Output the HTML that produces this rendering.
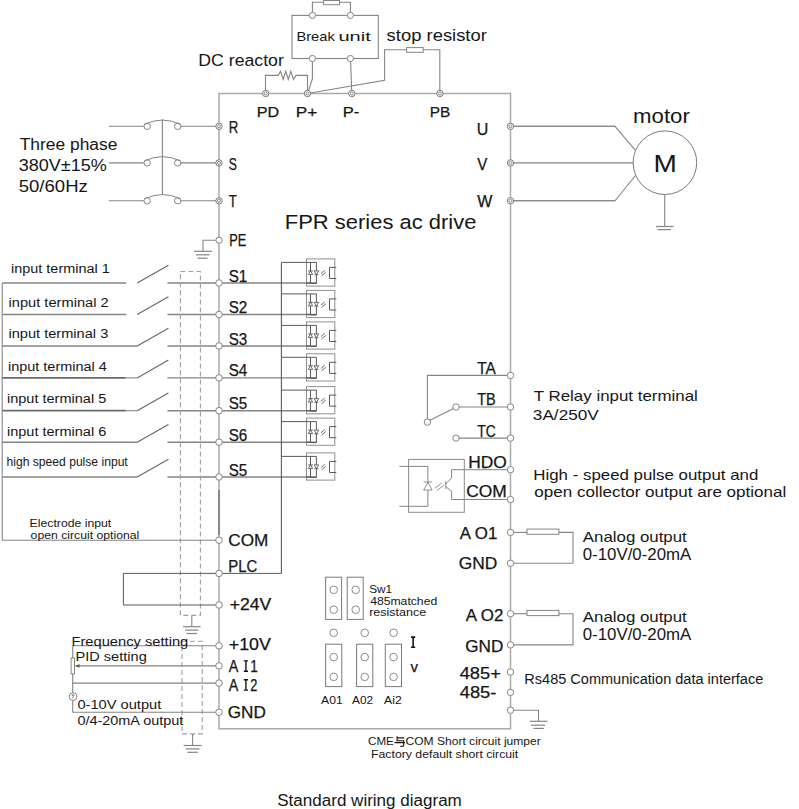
<!DOCTYPE html>
<html><head><meta charset="utf-8"><style>
html,body{margin:0;padding:0;background:#fff;}
svg{display:block;}
text{font-family:"Liberation Sans",sans-serif;}
</style></head><body>
<svg width="799" height="809" viewBox="0 0 799 809">
<rect width="799" height="809" fill="#fff"/>
<rect x="219" y="93.5" width="291.5" height="635.3" fill="none" stroke="#ababab" stroke-width="1.5"/>
<line x1="219" y1="490" x2="219" y2="535" stroke="#858585" stroke-width="1.9"/>
<rect x="292" y="15.4" width="86.3" height="43.1" fill="none" stroke="#858585" stroke-width="1.1"/>
<polyline points="312.4,12.2 312.4,2.3 350.4,2.3 350.4,12.2" fill="none" stroke="#858585" stroke-width="1.1"/>
<rect x="323.6" y="0.5" width="15.9" height="4.2" fill="#fff" stroke="#858585" stroke-width="1.0"/>
<circle cx="312.4" cy="15.4" r="3.1" fill="#fff" stroke="#858585" stroke-width="1.0"/>
<circle cx="312.4" cy="58.5" r="3.1" fill="#fff" stroke="#858585" stroke-width="1.0"/>
<circle cx="350.4" cy="15.4" r="3.1" fill="#fff" stroke="#858585" stroke-width="1.0"/>
<circle cx="350.4" cy="58.5" r="3.1" fill="#fff" stroke="#858585" stroke-width="1.0"/>
<polyline points="265.5,93.5 265.5,75.4 278,75.4 280.57142857142856,71.4 283.14285714285717,79.4 285.7142857142857,71.4 288.2857142857143,79.4 290.85714285714283,71.4 293.42857142857144,79.4 296,75.4 307.5,75.4 307.5,93.5" fill="none" stroke="#858585" stroke-width="1.1"/>
<polyline points="312.4,61.6 312.4,79 307.5,93.5" fill="none" stroke="#858585" stroke-width="1.1"/>
<line x1="350.6" y1="61.6" x2="351.8" y2="93.5" stroke="#858585" stroke-width="1.1"/>
<polyline points="307.5,93.5 384.6,80.4 384.6,49.8 406.6,49.8" fill="none" stroke="#858585" stroke-width="1.1"/>
<rect x="406.6" y="47.6" width="16.6" height="4.7" fill="#fff" stroke="#858585" stroke-width="1.0"/>
<polyline points="423.2,49.8 439.8,49.8 439.8,93.5" fill="none" stroke="#858585" stroke-width="1.1"/>
<circle cx="265.7" cy="93.5" r="3.2" fill="#fff" stroke="#7a7a7a" stroke-width="1.0"/>
<circle cx="265.7" cy="93.5" r="1.5" fill="#fff" stroke="#7a7a7a" stroke-width="0.9"/>
<circle cx="307.5" cy="93.5" r="3.2" fill="#fff" stroke="#7a7a7a" stroke-width="1.0"/>
<circle cx="307.5" cy="93.5" r="1.5" fill="#fff" stroke="#7a7a7a" stroke-width="0.9"/>
<circle cx="351.8" cy="93.5" r="3.2" fill="#fff" stroke="#7a7a7a" stroke-width="1.0"/>
<circle cx="351.8" cy="93.5" r="1.5" fill="#fff" stroke="#7a7a7a" stroke-width="0.9"/>
<circle cx="439.9" cy="93.5" r="3.2" fill="#fff" stroke="#7a7a7a" stroke-width="1.0"/>
<circle cx="439.9" cy="93.5" r="1.5" fill="#fff" stroke="#7a7a7a" stroke-width="0.9"/>
<line x1="108.9" y1="126.3" x2="144" y2="126.3" stroke="#858585" stroke-width="1.1"/>
<line x1="180.9" y1="126.3" x2="219" y2="126.3" stroke="#858585" stroke-width="1.1"/>
<circle cx="147.2" cy="126.3" r="3.2" fill="#fff" stroke="#858585" stroke-width="1.0"/>
<circle cx="177.7" cy="126.3" r="3.2" fill="#fff" stroke="#858585" stroke-width="1.0"/>
<path d="M144.6,124.3 Q162.4,115.8 180.3,124.3" fill="none" stroke="#858585" stroke-width="1.0"/>
<circle cx="219" cy="126.3" r="3.2" fill="#fff" stroke="#7a7a7a" stroke-width="1.0"/>
<circle cx="219" cy="126.3" r="1.5" fill="#fff" stroke="#7a7a7a" stroke-width="0.9"/>
<line x1="108.9" y1="162.9" x2="144" y2="162.9" stroke="#858585" stroke-width="1.1"/>
<line x1="180.9" y1="162.9" x2="219" y2="162.9" stroke="#858585" stroke-width="1.1"/>
<circle cx="147.2" cy="162.9" r="3.2" fill="#fff" stroke="#858585" stroke-width="1.0"/>
<circle cx="177.7" cy="162.9" r="3.2" fill="#fff" stroke="#858585" stroke-width="1.0"/>
<path d="M144.6,160.9 Q162.4,152.4 180.3,160.9" fill="none" stroke="#858585" stroke-width="1.0"/>
<circle cx="219" cy="162.9" r="3.2" fill="#fff" stroke="#7a7a7a" stroke-width="1.0"/>
<circle cx="219" cy="162.9" r="1.5" fill="#fff" stroke="#7a7a7a" stroke-width="0.9"/>
<line x1="108.9" y1="200.8" x2="144" y2="200.8" stroke="#858585" stroke-width="1.1"/>
<line x1="180.9" y1="200.8" x2="219" y2="200.8" stroke="#858585" stroke-width="1.1"/>
<circle cx="147.2" cy="200.8" r="3.2" fill="#fff" stroke="#858585" stroke-width="1.0"/>
<circle cx="177.7" cy="200.8" r="3.2" fill="#fff" stroke="#858585" stroke-width="1.0"/>
<path d="M144.6,198.8 Q162.4,190.3 180.3,198.8" fill="none" stroke="#858585" stroke-width="1.0"/>
<circle cx="219" cy="200.8" r="3.2" fill="#fff" stroke="#7a7a7a" stroke-width="1.0"/>
<circle cx="219" cy="200.8" r="1.5" fill="#fff" stroke="#7a7a7a" stroke-width="0.9"/>
<line x1="162.4" y1="119.5" x2="162.4" y2="194.6" stroke="#858585" stroke-width="1.1"/>
<line x1="510.5" y1="126.3" x2="615" y2="126.3" stroke="#858585" stroke-width="1.1"/>
<line x1="510.5" y1="162.9" x2="633.2" y2="162.9" stroke="#858585" stroke-width="1.1"/>
<line x1="510.5" y1="200.8" x2="615" y2="200.8" stroke="#858585" stroke-width="1.1"/>
<polyline points="510.5,126.3 615,126.3 635.5,150.3" fill="none" stroke="#858585" stroke-width="1.1"/>
<polyline points="510.5,200.8 615,200.8 635.5,175.5" fill="none" stroke="#858585" stroke-width="1.1"/>
<circle cx="664.9" cy="162.7" r="31.8" fill="#fff" stroke="#7a7a7a" stroke-width="1.0"/>
<circle cx="510.5" cy="126.3" r="3.2" fill="#fff" stroke="#7a7a7a" stroke-width="1.0"/>
<circle cx="510.5" cy="126.3" r="1.5" fill="#fff" stroke="#7a7a7a" stroke-width="0.9"/>
<circle cx="510.5" cy="162.9" r="3.2" fill="#fff" stroke="#7a7a7a" stroke-width="1.0"/>
<circle cx="510.5" cy="162.9" r="1.5" fill="#fff" stroke="#7a7a7a" stroke-width="0.9"/>
<circle cx="510.5" cy="200.8" r="3.2" fill="#fff" stroke="#7a7a7a" stroke-width="1.0"/>
<circle cx="510.5" cy="200.8" r="1.5" fill="#fff" stroke="#7a7a7a" stroke-width="0.9"/>
<line x1="664.7" y1="194.5" x2="664.7" y2="226.5" stroke="#858585" stroke-width="1.1"/>
<line x1="656" y1="226.5" x2="673.5" y2="226.5" stroke="#858585" stroke-width="1.2"/>
<line x1="657.5" y1="229.6" x2="671" y2="229.6" stroke="#858585" stroke-width="1.2"/>
<polyline points="216,240.2 203,240.2 203,251.3" fill="none" stroke="#858585" stroke-width="1.1"/>
<line x1="194" y1="251.3" x2="212" y2="251.3" stroke="#858585" stroke-width="1.2"/>
<line x1="196" y1="254.8" x2="209.5" y2="254.8" stroke="#858585" stroke-width="1.2"/>
<line x1="197.5" y1="258.2" x2="207.5" y2="258.2" stroke="#858585" stroke-width="1.2"/>
<circle cx="219" cy="240.2" r="3.1" fill="#fff" stroke="#858585" stroke-width="1.0"/>
<line x1="2.2" y1="283.0" x2="126.3" y2="283.0" stroke="#858585" stroke-width="1.4"/>
<line x1="137.2" y1="283.0" x2="168.4" y2="265.2" stroke="#666" stroke-width="1.1"/>
<line x1="167.4" y1="283.0" x2="310.5" y2="283.0" stroke="#858585" stroke-width="1.4"/>
<line x1="2.2" y1="314.5" x2="126.3" y2="314.5" stroke="#858585" stroke-width="1.4"/>
<line x1="137.2" y1="314.5" x2="168.4" y2="296.7" stroke="#666" stroke-width="1.1"/>
<line x1="167.4" y1="314.5" x2="310.5" y2="314.5" stroke="#858585" stroke-width="1.4"/>
<line x1="2.2" y1="346.0" x2="137.2" y2="346.0" stroke="#858585" stroke-width="1.4"/>
<line x1="137.2" y1="346.0" x2="168.4" y2="328.2" stroke="#666" stroke-width="1.1"/>
<line x1="167.4" y1="346.0" x2="310.5" y2="346.0" stroke="#858585" stroke-width="1.4"/>
<line x1="2.2" y1="377.9" x2="125.8" y2="377.9" stroke="#6a6a6a" stroke-width="1.8"/>
<line x1="125.8" y1="377.9" x2="137.2" y2="377.9" stroke="#858585" stroke-width="1.1"/>
<line x1="137.2" y1="377.9" x2="168.4" y2="360.09999999999997" stroke="#666" stroke-width="1.1"/>
<line x1="167.4" y1="377.9" x2="310.5" y2="377.9" stroke="#858585" stroke-width="1.4"/>
<line x1="2.2" y1="410.7" x2="125.8" y2="410.7" stroke="#6a6a6a" stroke-width="1.8"/>
<line x1="125.8" y1="410.7" x2="137.2" y2="410.7" stroke="#858585" stroke-width="1.1"/>
<line x1="137.2" y1="410.7" x2="168.4" y2="392.9" stroke="#666" stroke-width="1.1"/>
<line x1="167.4" y1="410.7" x2="310.5" y2="410.7" stroke="#858585" stroke-width="1.4"/>
<line x1="2.2" y1="442.2" x2="137.2" y2="442.2" stroke="#858585" stroke-width="1.4"/>
<line x1="137.2" y1="442.2" x2="168.4" y2="424.4" stroke="#666" stroke-width="1.1"/>
<line x1="167.4" y1="442.2" x2="310.5" y2="442.2" stroke="#858585" stroke-width="1.4"/>
<line x1="2.2" y1="477.0" x2="137.2" y2="477.0" stroke="#858585" stroke-width="1.4"/>
<line x1="137.2" y1="477.0" x2="168.4" y2="459.2" stroke="#666" stroke-width="1.1"/>
<line x1="167.4" y1="477.0" x2="310.5" y2="477.0" stroke="#858585" stroke-width="1.4"/>
<line x1="2.2" y1="283" x2="2.2" y2="540.2" stroke="#858585" stroke-width="1.1"/>
<rect x="180.4" y="271.5" width="20.0" height="343.9" fill="none" stroke="#a0a0a0" stroke-width="1.1" stroke-dasharray="5,3"/>
<line x1="191.8" y1="615.4" x2="191.8" y2="626.7" stroke="#858585" stroke-width="1.1"/>
<line x1="183.05" y1="626.7" x2="200.55" y2="626.7" stroke="#858585" stroke-width="1.2"/>
<line x1="185.05" y1="630.1" x2="198.55" y2="630.1" stroke="#858585" stroke-width="1.2"/>
<line x1="186.55" y1="633.5" x2="197.05" y2="633.5" stroke="#858585" stroke-width="1.2"/>
<rect x="182.0" y="641.3" width="20.2" height="92.6" fill="none" stroke="#a0a0a0" stroke-width="1.1" stroke-dasharray="5,3"/>
<line x1="192.6" y1="733.9" x2="192.6" y2="745.5" stroke="#858585" stroke-width="1.1"/>
<line x1="183.6" y1="745.5" x2="201.6" y2="745.5" stroke="#858585" stroke-width="1.2"/>
<line x1="185.6" y1="748.9" x2="199.6" y2="748.9" stroke="#858585" stroke-width="1.2"/>
<line x1="187.35" y1="752.3" x2="197.85" y2="752.3" stroke="#858585" stroke-width="1.2"/>
<rect x="306.5" y="258.9" width="28.3" height="27.2" fill="none" stroke="#909090" stroke-width="1.0"/>
<polyline points="281.4,262.4 316.4,262.4 316.4,283.5 310.5,283.5" fill="none" stroke="#5a5a5a" stroke-width="1.0"/>
<line x1="310.5" y1="262.4" x2="310.5" y2="283.5" stroke="#5a5a5a" stroke-width="1.0"/>
<line x1="306" y1="283.0" x2="316.4" y2="283.0" stroke="#5a5a5a" stroke-width="1.2"/>
<path d="M308.1,270.9 L312.9,270.9 M310.5,270.9 L308.3,274.4 L312.7,274.4 Z" fill="#fff" stroke="#5a5a5a" stroke-width="0.9"/>
<path d="M314.1,270.9 L318.7,270.9 L316.4,274.7 Z M314.4,274.7 L318.4,274.7" fill="#fff" stroke="#5a5a5a" stroke-width="0.9"/>
<line x1="320.9" y1="273.6" x2="324.7" y2="270.4" stroke="#5a5a5a" stroke-width="0.9"/>
<line x1="321.5" y1="275.9" x2="325.8" y2="272.4" stroke="#5a5a5a" stroke-width="0.9"/>
<polyline points="336.3,267.4 329.5,267.4 329.5,278.5 336.3,278.5" fill="none" stroke="#5a5a5a" stroke-width="1.0"/>
<rect x="306.5" y="290.4" width="28.3" height="27.2" fill="none" stroke="#909090" stroke-width="1.0"/>
<polyline points="281.4,293.9 316.4,293.9 316.4,315.0 310.5,315.0" fill="none" stroke="#5a5a5a" stroke-width="1.0"/>
<line x1="310.5" y1="293.9" x2="310.5" y2="315.0" stroke="#5a5a5a" stroke-width="1.0"/>
<line x1="306" y1="314.5" x2="316.4" y2="314.5" stroke="#5a5a5a" stroke-width="1.2"/>
<path d="M308.1,302.4 L312.9,302.4 M310.5,302.4 L308.3,305.9 L312.7,305.9 Z" fill="#fff" stroke="#5a5a5a" stroke-width="0.9"/>
<path d="M314.1,302.4 L318.7,302.4 L316.4,306.2 Z M314.4,306.2 L318.4,306.2" fill="#fff" stroke="#5a5a5a" stroke-width="0.9"/>
<line x1="320.9" y1="305.1" x2="324.7" y2="301.9" stroke="#5a5a5a" stroke-width="0.9"/>
<line x1="321.5" y1="307.4" x2="325.8" y2="303.9" stroke="#5a5a5a" stroke-width="0.9"/>
<polyline points="336.3,298.9 329.5,298.9 329.5,310.0 336.3,310.0" fill="none" stroke="#5a5a5a" stroke-width="1.0"/>
<rect x="306.5" y="321.9" width="28.3" height="27.2" fill="none" stroke="#909090" stroke-width="1.0"/>
<polyline points="281.4,325.4 316.4,325.4 316.4,346.5 310.5,346.5" fill="none" stroke="#5a5a5a" stroke-width="1.0"/>
<line x1="310.5" y1="325.4" x2="310.5" y2="346.5" stroke="#5a5a5a" stroke-width="1.0"/>
<line x1="306" y1="346.0" x2="316.4" y2="346.0" stroke="#5a5a5a" stroke-width="1.2"/>
<path d="M308.1,333.9 L312.9,333.9 M310.5,333.9 L308.3,337.4 L312.7,337.4 Z" fill="#fff" stroke="#5a5a5a" stroke-width="0.9"/>
<path d="M314.1,333.9 L318.7,333.9 L316.4,337.7 Z M314.4,337.7 L318.4,337.7" fill="#fff" stroke="#5a5a5a" stroke-width="0.9"/>
<line x1="320.9" y1="336.6" x2="324.7" y2="333.4" stroke="#5a5a5a" stroke-width="0.9"/>
<line x1="321.5" y1="338.9" x2="325.8" y2="335.4" stroke="#5a5a5a" stroke-width="0.9"/>
<polyline points="336.3,330.4 329.5,330.4 329.5,341.5 336.3,341.5" fill="none" stroke="#5a5a5a" stroke-width="1.0"/>
<rect x="306.5" y="353.79999999999995" width="28.3" height="27.2" fill="none" stroke="#909090" stroke-width="1.0"/>
<polyline points="281.4,357.29999999999995 316.4,357.29999999999995 316.4,378.4 310.5,378.4" fill="none" stroke="#5a5a5a" stroke-width="1.0"/>
<line x1="310.5" y1="357.29999999999995" x2="310.5" y2="378.4" stroke="#5a5a5a" stroke-width="1.0"/>
<line x1="306" y1="377.9" x2="316.4" y2="377.9" stroke="#5a5a5a" stroke-width="1.2"/>
<path d="M308.1,365.79999999999995 L312.9,365.79999999999995 M310.5,365.79999999999995 L308.3,369.29999999999995 L312.7,369.29999999999995 Z" fill="#fff" stroke="#5a5a5a" stroke-width="0.9"/>
<path d="M314.1,365.79999999999995 L318.7,365.79999999999995 L316.4,369.59999999999997 Z M314.4,369.59999999999997 L318.4,369.59999999999997" fill="#fff" stroke="#5a5a5a" stroke-width="0.9"/>
<line x1="320.9" y1="368.5" x2="324.7" y2="365.29999999999995" stroke="#5a5a5a" stroke-width="0.9"/>
<line x1="321.5" y1="370.79999999999995" x2="325.8" y2="367.29999999999995" stroke="#5a5a5a" stroke-width="0.9"/>
<polyline points="336.3,362.29999999999995 329.5,362.29999999999995 329.5,373.4 336.3,373.4" fill="none" stroke="#5a5a5a" stroke-width="1.0"/>
<rect x="306.5" y="386.59999999999997" width="28.3" height="27.2" fill="none" stroke="#909090" stroke-width="1.0"/>
<polyline points="281.4,390.09999999999997 316.4,390.09999999999997 316.4,411.2 310.5,411.2" fill="none" stroke="#5a5a5a" stroke-width="1.0"/>
<line x1="310.5" y1="390.09999999999997" x2="310.5" y2="411.2" stroke="#5a5a5a" stroke-width="1.0"/>
<line x1="306" y1="410.7" x2="316.4" y2="410.7" stroke="#5a5a5a" stroke-width="1.2"/>
<path d="M308.1,398.59999999999997 L312.9,398.59999999999997 M310.5,398.59999999999997 L308.3,402.09999999999997 L312.7,402.09999999999997 Z" fill="#fff" stroke="#5a5a5a" stroke-width="0.9"/>
<path d="M314.1,398.59999999999997 L318.7,398.59999999999997 L316.4,402.4 Z M314.4,402.4 L318.4,402.4" fill="#fff" stroke="#5a5a5a" stroke-width="0.9"/>
<line x1="320.9" y1="401.3" x2="324.7" y2="398.09999999999997" stroke="#5a5a5a" stroke-width="0.9"/>
<line x1="321.5" y1="403.59999999999997" x2="325.8" y2="400.09999999999997" stroke="#5a5a5a" stroke-width="0.9"/>
<polyline points="336.3,395.09999999999997 329.5,395.09999999999997 329.5,406.2 336.3,406.2" fill="none" stroke="#5a5a5a" stroke-width="1.0"/>
<rect x="306.5" y="418.09999999999997" width="28.3" height="27.2" fill="none" stroke="#909090" stroke-width="1.0"/>
<polyline points="281.4,421.59999999999997 316.4,421.59999999999997 316.4,442.7 310.5,442.7" fill="none" stroke="#5a5a5a" stroke-width="1.0"/>
<line x1="310.5" y1="421.59999999999997" x2="310.5" y2="442.7" stroke="#5a5a5a" stroke-width="1.0"/>
<line x1="306" y1="442.2" x2="316.4" y2="442.2" stroke="#5a5a5a" stroke-width="1.2"/>
<path d="M308.1,430.09999999999997 L312.9,430.09999999999997 M310.5,430.09999999999997 L308.3,433.59999999999997 L312.7,433.59999999999997 Z" fill="#fff" stroke="#5a5a5a" stroke-width="0.9"/>
<path d="M314.1,430.09999999999997 L318.7,430.09999999999997 L316.4,433.9 Z M314.4,433.9 L318.4,433.9" fill="#fff" stroke="#5a5a5a" stroke-width="0.9"/>
<line x1="320.9" y1="432.8" x2="324.7" y2="429.59999999999997" stroke="#5a5a5a" stroke-width="0.9"/>
<line x1="321.5" y1="435.09999999999997" x2="325.8" y2="431.59999999999997" stroke="#5a5a5a" stroke-width="0.9"/>
<polyline points="336.3,426.59999999999997 329.5,426.59999999999997 329.5,437.7 336.3,437.7" fill="none" stroke="#5a5a5a" stroke-width="1.0"/>
<rect x="306.5" y="452.9" width="28.3" height="27.2" fill="none" stroke="#909090" stroke-width="1.0"/>
<polyline points="281.4,456.4 316.4,456.4 316.4,477.5 310.5,477.5" fill="none" stroke="#5a5a5a" stroke-width="1.0"/>
<line x1="310.5" y1="456.4" x2="310.5" y2="477.5" stroke="#5a5a5a" stroke-width="1.0"/>
<line x1="306" y1="477.0" x2="316.4" y2="477.0" stroke="#5a5a5a" stroke-width="1.2"/>
<path d="M308.1,464.9 L312.9,464.9 M310.5,464.9 L308.3,468.4 L312.7,468.4 Z" fill="#fff" stroke="#5a5a5a" stroke-width="0.9"/>
<path d="M314.1,464.9 L318.7,464.9 L316.4,468.7 Z M314.4,468.7 L318.4,468.7" fill="#fff" stroke="#5a5a5a" stroke-width="0.9"/>
<line x1="320.9" y1="467.6" x2="324.7" y2="464.4" stroke="#5a5a5a" stroke-width="0.9"/>
<line x1="321.5" y1="469.9" x2="325.8" y2="466.4" stroke="#5a5a5a" stroke-width="0.9"/>
<polyline points="336.3,461.4 329.5,461.4 329.5,472.5 336.3,472.5" fill="none" stroke="#5a5a5a" stroke-width="1.0"/>
<line x1="281.4" y1="262.4" x2="281.4" y2="573.4" stroke="#5a5a5a" stroke-width="1.1"/>
<line x1="219" y1="573.4" x2="281.4" y2="573.4" stroke="#5a5a5a" stroke-width="1.0"/>
<circle cx="219" cy="283.0" r="3.3" fill="#fff" stroke="#858585" stroke-width="1.0"/>
<circle cx="219" cy="314.5" r="3.3" fill="#fff" stroke="#858585" stroke-width="1.0"/>
<circle cx="219" cy="346.0" r="3.3" fill="#fff" stroke="#858585" stroke-width="1.0"/>
<circle cx="219" cy="377.9" r="3.3" fill="#fff" stroke="#858585" stroke-width="1.0"/>
<circle cx="219" cy="410.7" r="3.3" fill="#fff" stroke="#858585" stroke-width="1.0"/>
<circle cx="219" cy="442.2" r="3.3" fill="#fff" stroke="#858585" stroke-width="1.0"/>
<circle cx="219" cy="477.0" r="3.3" fill="#fff" stroke="#858585" stroke-width="1.0"/>
<line x1="2.2" y1="540.2" x2="219" y2="540.2" stroke="#858585" stroke-width="1.1"/>
<polyline points="219,573.4 123.4,573.4 123.4,605.0 219,605.0" fill="none" stroke="#5a5a5a" stroke-width="1.0"/>
<circle cx="219" cy="540.2" r="3.3" fill="#fff" stroke="#858585" stroke-width="1.0"/>
<circle cx="219" cy="573.4" r="3.3" fill="#fff" stroke="#858585" stroke-width="1.0"/>
<circle cx="219" cy="605.0" r="3.3" fill="#fff" stroke="#858585" stroke-width="1.0"/>
<line x1="72.7" y1="645.8" x2="219" y2="645.8" stroke="#858585" stroke-width="1.1"/>
<line x1="72.7" y1="645.8" x2="72.7" y2="658" stroke="#858585" stroke-width="1.1"/>
<rect x="71.1" y="658" width="3.4" height="15.8" fill="#fff" stroke="#858585" stroke-width="1.0"/>
<line x1="72.7" y1="673.8" x2="72.7" y2="692.7" stroke="#858585" stroke-width="1.1"/>
<line x1="75.5" y1="665.9" x2="219" y2="665.9" stroke="#858585" stroke-width="1.1"/>
<path d="M75.3,665.9 L79.5,664 L79.5,667.8 Z" fill="#5a5a5a"/>
<line x1="72.7" y1="683.1" x2="219" y2="683.1" stroke="#858585" stroke-width="1.1"/>
<circle cx="73.1" cy="696.6" r="3.9" fill="#fff" stroke="#858585" stroke-width="1.0"/>
<line x1="73.1" y1="698.8" x2="73.1" y2="694.6" stroke="#5a5a5a" stroke-width="0.7"/>
<path d="M71.9,695.9 L73.1,694.2 L74.3,695.9" fill="none" stroke="#5a5a5a" stroke-width="0.7"/>
<line x1="72.7" y1="700.5" x2="72.7" y2="712.3" stroke="#858585" stroke-width="1.1"/>
<line x1="72.7" y1="712.3" x2="219" y2="712.3" stroke="#858585" stroke-width="1.1"/>
<circle cx="219" cy="645.8" r="3.3" fill="#fff" stroke="#858585" stroke-width="1.0"/>
<circle cx="219" cy="665.9" r="3.3" fill="#fff" stroke="#858585" stroke-width="1.0"/>
<circle cx="219" cy="683.1" r="3.3" fill="#fff" stroke="#858585" stroke-width="1.0"/>
<circle cx="219" cy="712.3" r="3.3" fill="#fff" stroke="#858585" stroke-width="1.0"/>
<polyline points="510.5,375.4 427.4,375.4 427.4,419" fill="none" stroke="#858585" stroke-width="1.1"/>
<circle cx="427.4" cy="422.1" r="3.2" fill="#fff" stroke="#858585" stroke-width="1.0"/>
<line x1="429.5" y1="420.5" x2="453.5" y2="408.5" stroke="#858585" stroke-width="1.1"/>
<circle cx="456" cy="407" r="3.2" fill="#fff" stroke="#858585" stroke-width="1.0"/>
<line x1="459.2" y1="407" x2="510.5" y2="407" stroke="#858585" stroke-width="1.1"/>
<circle cx="456" cy="438.1" r="3.2" fill="#fff" stroke="#858585" stroke-width="1.0"/>
<line x1="459.2" y1="438.1" x2="510.5" y2="438.1" stroke="#858585" stroke-width="1.1"/>
<rect x="408.6" y="459.4" width="55.7" height="52.9" fill="none" stroke="#8a8a8a" stroke-width="1.0"/>
<polyline points="399.4,466.4 427.9,466.4 427.9,506.3 399.4,506.3" fill="none" stroke="#858585" stroke-width="1.0"/>
<path d="M423.6,490 L432.1,490 L427.9,482.4 Z M423.6,482 L432.1,482" fill="#fff" stroke="#858585" stroke-width="0.9"/>
<line x1="434.9" y1="488.3" x2="441.9" y2="482.9" stroke="#858585" stroke-width="0.9"/>
<line x1="436.9" y1="490.6" x2="443.9" y2="485.2" stroke="#858585" stroke-width="0.9"/>
<line x1="445.8" y1="481.3" x2="445.8" y2="489.1" stroke="#858585" stroke-width="1.0"/>
<polyline points="445.8,484 451.6,477.8 451.6,469.7 510.5,469.7" fill="none" stroke="#858585" stroke-width="1.0"/>
<polyline points="445.8,486.5 451.6,491.5 451.6,499.5 510.5,499.5" fill="none" stroke="#858585" stroke-width="1.0"/>
<line x1="510.5" y1="532.4" x2="527" y2="532.4" stroke="#858585" stroke-width="1.1"/>
<rect x="527" y="529.1" width="31.9" height="5.2" fill="#fff" stroke="#858585" stroke-width="1.0"/>
<polyline points="558.9,532.4 573,532.4 573,563.3 510.5,563.3" fill="none" stroke="#858585" stroke-width="1.1"/>
<line x1="510.5" y1="613.7" x2="527" y2="613.7" stroke="#858585" stroke-width="1.1"/>
<rect x="527" y="610.4000000000001" width="31.9" height="5.2" fill="#fff" stroke="#858585" stroke-width="1.0"/>
<polyline points="558.9,613.7 573,613.7 573,644.9 510.5,644.9" fill="none" stroke="#858585" stroke-width="1.1"/>
<polyline points="510.5,710.2 538.5,710.2 538.5,721.3" fill="none" stroke="#858585" stroke-width="1.1"/>
<line x1="529.8" y1="721.3" x2="547.4" y2="721.3" stroke="#858585" stroke-width="1.2"/>
<line x1="531" y1="725.2" x2="545" y2="725.2" stroke="#858585" stroke-width="1.2"/>
<line x1="533.5" y1="728.4" x2="543.8" y2="728.4" stroke="#858585" stroke-width="1.2"/>
<circle cx="510.5" cy="375.4" r="3.2" fill="#fff" stroke="#858585" stroke-width="1.0"/>
<circle cx="510.5" cy="407" r="3.2" fill="#fff" stroke="#858585" stroke-width="1.0"/>
<circle cx="510.5" cy="438.1" r="3.2" fill="#fff" stroke="#858585" stroke-width="1.0"/>
<circle cx="510.5" cy="469.7" r="3.2" fill="#fff" stroke="#858585" stroke-width="1.0"/>
<circle cx="510.5" cy="499.5" r="3.2" fill="#fff" stroke="#858585" stroke-width="1.0"/>
<circle cx="510.5" cy="532.4" r="3.2" fill="#fff" stroke="#858585" stroke-width="1.0"/>
<circle cx="510.5" cy="563.3" r="3.2" fill="#fff" stroke="#858585" stroke-width="1.0"/>
<circle cx="510.5" cy="613.7" r="3.2" fill="#fff" stroke="#858585" stroke-width="1.0"/>
<circle cx="510.5" cy="644.9" r="3.2" fill="#fff" stroke="#858585" stroke-width="1.0"/>
<circle cx="510.5" cy="672" r="3.2" fill="#fff" stroke="#858585" stroke-width="1.0"/>
<circle cx="510.5" cy="692.4" r="3.2" fill="#fff" stroke="#858585" stroke-width="1.0"/>
<circle cx="510.5" cy="710.2" r="3.2" fill="#fff" stroke="#858585" stroke-width="1.0"/>
<rect x="325.6" y="577.2" width="16" height="42.2" fill="none" stroke="#7a7a7a" stroke-width="1.0"/>
<rect x="347.2" y="577.2" width="16" height="42.2" fill="none" stroke="#7a7a7a" stroke-width="1.0"/>
<circle cx="333.7" cy="589.8" r="3.8" fill="#fff" stroke="#808080" stroke-width="0.9"/>
<circle cx="333.7" cy="609.7" r="3.8" fill="#fff" stroke="#808080" stroke-width="0.9"/>
<circle cx="355.7" cy="589.8" r="3.8" fill="#fff" stroke="#808080" stroke-width="0.9"/>
<circle cx="355.7" cy="609.7" r="3.8" fill="#fff" stroke="#808080" stroke-width="0.9"/>
<rect x="325.6" y="644.2" width="16.2" height="42.4" fill="none" stroke="#7a7a7a" stroke-width="1.0"/>
<circle cx="333.7" cy="632.8" r="3.8" fill="#fff" stroke="#808080" stroke-width="0.9"/>
<circle cx="333.7" cy="657.1" r="3.8" fill="#fff" stroke="#808080" stroke-width="0.9"/>
<circle cx="333.7" cy="676.9" r="3.8" fill="#fff" stroke="#808080" stroke-width="0.9"/>
<rect x="356.6" y="644.2" width="16.2" height="42.4" fill="none" stroke="#7a7a7a" stroke-width="1.0"/>
<circle cx="364.7" cy="632.8" r="3.8" fill="#fff" stroke="#808080" stroke-width="0.9"/>
<circle cx="364.7" cy="657.1" r="3.8" fill="#fff" stroke="#808080" stroke-width="0.9"/>
<circle cx="364.7" cy="676.9" r="3.8" fill="#fff" stroke="#808080" stroke-width="0.9"/>
<rect x="385.3" y="644.2" width="16.2" height="42.4" fill="none" stroke="#7a7a7a" stroke-width="1.0"/>
<circle cx="393.6" cy="632.8" r="3.8" fill="#fff" stroke="#808080" stroke-width="0.9"/>
<circle cx="393.6" cy="657.1" r="3.8" fill="#fff" stroke="#808080" stroke-width="0.9"/>
<circle cx="393.6" cy="676.9" r="3.8" fill="#fff" stroke="#808080" stroke-width="0.9"/>
<text x="296.48" y="41.20" font-size="12.80" fill="#161616" textLength="38.28" lengthAdjust="spacingAndGlyphs">Break</text>
<text x="338.48" y="41.20" font-size="12.80" fill="#161616" textLength="32.28" lengthAdjust="spacingAndGlyphs">unit</text>
<text x="386.63" y="41.30" font-size="17.18" fill="#161616" textLength="100.22" lengthAdjust="spacingAndGlyphs">stop resistor</text>
<text x="198.34" y="65.70" font-size="15.91" fill="#161616" textLength="85.45" lengthAdjust="spacingAndGlyphs">DC reactor</text>
<text x="256.80" y="117.00" font-size="15.00" fill="#161616" stroke="#161616" stroke-width="0.25" textLength="22.50" lengthAdjust="spacingAndGlyphs">PD</text>
<text x="295.80" y="117.00" font-size="15.00" fill="#161616" stroke="#161616" stroke-width="0.25" textLength="21.50" lengthAdjust="spacingAndGlyphs">P+</text>
<text x="342.80" y="117.00" font-size="15.00" fill="#161616" stroke="#161616" stroke-width="0.25" textLength="16.50" lengthAdjust="spacingAndGlyphs">P-</text>
<text x="429.80" y="117.00" font-size="15.00" fill="#161616" stroke="#161616" stroke-width="0.25" textLength="20.50" lengthAdjust="spacingAndGlyphs">PB</text>
<text x="228.74" y="132.80" font-size="15.80" fill="#161616" stroke="#161616" stroke-width="0.25" textLength="9.58" lengthAdjust="spacingAndGlyphs">R</text>
<text x="228.74" y="169.60" font-size="15.80" fill="#161616" stroke="#161616" stroke-width="0.25" textLength="8.08" lengthAdjust="spacingAndGlyphs">S</text>
<text x="228.74" y="207.40" font-size="15.80" fill="#161616" stroke="#161616" stroke-width="0.25" textLength="8.08" lengthAdjust="spacingAndGlyphs">T</text>
<text x="229.24" y="245.90" font-size="15.80" fill="#161616" stroke="#161616" stroke-width="0.25" textLength="17.08" lengthAdjust="spacingAndGlyphs">PE</text>
<text x="476.74" y="135.40" font-size="15.80" fill="#161616" stroke="#161616" stroke-width="0.25" textLength="11.58" lengthAdjust="spacingAndGlyphs">U</text>
<text x="477.24" y="169.70" font-size="15.80" fill="#161616" stroke="#161616" stroke-width="0.25" textLength="10.08" lengthAdjust="spacingAndGlyphs">V</text>
<text x="477.24" y="207.40" font-size="15.80" fill="#161616" stroke="#161616" stroke-width="0.25" textLength="15.08" lengthAdjust="spacingAndGlyphs">W</text>
<text x="284.81" y="229.40" font-size="19.49" fill="#161616" textLength="191.61" lengthAdjust="spacingAndGlyphs">FPR series ac drive</text>
<text x="633.09" y="122.80" font-size="19.56" fill="#161616" textLength="56.76" lengthAdjust="spacingAndGlyphs">motor</text>
<text x="653.63" y="171.70" font-size="23.32" fill="#161616" textLength="23.33" lengthAdjust="spacingAndGlyphs">M</text>
<text x="19.75" y="150.00" font-size="15.60" fill="#161616" textLength="97.56" lengthAdjust="spacingAndGlyphs">Three phase</text>
<text x="18.75" y="170.90" font-size="15.60" fill="#161616" textLength="88.06" lengthAdjust="spacingAndGlyphs">380V±15%</text>
<text x="18.75" y="191.60" font-size="15.60" fill="#161616" textLength="69.06" lengthAdjust="spacingAndGlyphs">50/60Hz</text>
<text x="228.74" y="281.50" font-size="15.80" fill="#161616" stroke="#161616" stroke-width="0.25" textLength="18.58" lengthAdjust="spacingAndGlyphs">S1</text>
<text x="228.74" y="313.00" font-size="15.80" fill="#161616" stroke="#161616" stroke-width="0.25" textLength="18.58" lengthAdjust="spacingAndGlyphs">S2</text>
<text x="228.74" y="344.50" font-size="15.80" fill="#161616" stroke="#161616" stroke-width="0.25" textLength="18.58" lengthAdjust="spacingAndGlyphs">S3</text>
<text x="228.74" y="376.40" font-size="15.80" fill="#161616" stroke="#161616" stroke-width="0.25" textLength="18.58" lengthAdjust="spacingAndGlyphs">S4</text>
<text x="228.74" y="409.20" font-size="15.80" fill="#161616" stroke="#161616" stroke-width="0.25" textLength="18.58" lengthAdjust="spacingAndGlyphs">S5</text>
<text x="228.74" y="440.70" font-size="15.80" fill="#161616" stroke="#161616" stroke-width="0.25" textLength="18.58" lengthAdjust="spacingAndGlyphs">S6</text>
<text x="228.74" y="475.50" font-size="15.80" fill="#161616" stroke="#161616" stroke-width="0.25" textLength="18.58" lengthAdjust="spacingAndGlyphs">S5</text>
<text x="228.24" y="545.60" font-size="15.80" fill="#161616" stroke="#161616" stroke-width="0.25" textLength="40.08" lengthAdjust="spacingAndGlyphs">COM</text>
<text x="228.24" y="571.80" font-size="15.80" fill="#161616" stroke="#161616" stroke-width="0.25" textLength="29.08" lengthAdjust="spacingAndGlyphs">PLC</text>
<text x="229.74" y="610.00" font-size="15.80" fill="#161616" stroke="#161616" stroke-width="0.25" textLength="41.58" lengthAdjust="spacingAndGlyphs">+24V</text>
<text x="228.74" y="650.00" font-size="15.80" fill="#161616" stroke="#161616" stroke-width="0.25" textLength="42.08" lengthAdjust="spacingAndGlyphs">+10V</text>
<text x="228.74" y="671.80" font-size="15.80" fill="#161616" stroke="#161616" stroke-width="0.25" textLength="9.58" lengthAdjust="spacingAndGlyphs">A</text>
<text x="250.24" y="671.80" font-size="15.80" fill="#161616" stroke="#161616" stroke-width="0.25" textLength="7.58" lengthAdjust="spacingAndGlyphs">1</text>
<text x="228.74" y="690.70" font-size="15.80" fill="#161616" stroke="#161616" stroke-width="0.25" textLength="9.58" lengthAdjust="spacingAndGlyphs">A</text>
<text x="250.24" y="690.70" font-size="15.80" fill="#161616" stroke="#161616" stroke-width="0.25" textLength="7.08" lengthAdjust="spacingAndGlyphs">2</text>
<text x="227.74" y="717.60" font-size="15.80" fill="#161616" stroke="#161616" stroke-width="0.25" textLength="38.08" lengthAdjust="spacingAndGlyphs">GND</text>
<text x="11.00" y="273.00" font-size="12.50" fill="#161616" textLength="98.75" lengthAdjust="spacingAndGlyphs">input terminal 1</text>
<text x="8.50" y="307.20" font-size="12.50" fill="#161616" textLength="100.25" lengthAdjust="spacingAndGlyphs">input terminal 2</text>
<text x="8.50" y="338.20" font-size="12.50" fill="#161616" textLength="99.75" lengthAdjust="spacingAndGlyphs">input terminal 3</text>
<text x="8.00" y="371.40" font-size="12.50" fill="#161616" textLength="98.75" lengthAdjust="spacingAndGlyphs">input terminal 4</text>
<text x="7.00" y="402.90" font-size="12.50" fill="#161616" textLength="99.25" lengthAdjust="spacingAndGlyphs">input terminal 5</text>
<text x="7.00" y="435.90" font-size="12.50" fill="#161616" textLength="99.25" lengthAdjust="spacingAndGlyphs">input terminal 6</text>
<text x="6.54" y="466.30" font-size="12.00" fill="#161616" textLength="121.20" lengthAdjust="spacingAndGlyphs">high speed pulse input</text>
<text x="29.63" y="527.10" font-size="10.90" fill="#161616" textLength="81.59" lengthAdjust="spacingAndGlyphs">Electrode input</text>
<text x="30.63" y="538.50" font-size="10.90" fill="#161616" textLength="108.59" lengthAdjust="spacingAndGlyphs">open circuit optional</text>
<text x="71.49" y="645.90" font-size="12.60" fill="#161616" textLength="116.76" lengthAdjust="spacingAndGlyphs">Frequency setting</text>
<text x="75.46" y="660.70" font-size="13.00" fill="#161616" textLength="71.30" lengthAdjust="spacingAndGlyphs">PID setting</text>
<text x="77.41" y="708.90" font-size="13.60" fill="#161616" textLength="83.86" lengthAdjust="spacingAndGlyphs">0-10V output</text>
<text x="77.43" y="724.70" font-size="13.40" fill="#161616" textLength="105.84" lengthAdjust="spacingAndGlyphs">0/4-20mA output</text>
<text x="477.24" y="373.60" font-size="15.80" fill="#161616" stroke="#161616" stroke-width="0.25" textLength="18.58" lengthAdjust="spacingAndGlyphs">TA</text>
<text x="477.24" y="405.00" font-size="15.80" fill="#161616" stroke="#161616" stroke-width="0.25" textLength="18.58" lengthAdjust="spacingAndGlyphs">TB</text>
<text x="477.24" y="437.00" font-size="15.80" fill="#161616" stroke="#161616" stroke-width="0.25" textLength="18.58" lengthAdjust="spacingAndGlyphs">TC</text>
<text x="468.24" y="467.50" font-size="15.80" fill="#161616" stroke="#161616" stroke-width="0.25" textLength="38.58" lengthAdjust="spacingAndGlyphs">HDO</text>
<text x="466.24" y="496.60" font-size="15.80" fill="#161616" stroke="#161616" stroke-width="0.25" textLength="40.58" lengthAdjust="spacingAndGlyphs">COM</text>
<text x="533.80" y="400.80" font-size="15.00" fill="#161616" textLength="164.00" lengthAdjust="spacingAndGlyphs">T Relay input terminal</text>
<text x="532.83" y="420.40" font-size="14.60" fill="#161616" textLength="65.96" lengthAdjust="spacingAndGlyphs">3A/250V</text>
<text x="533.30" y="479.90" font-size="15.00" fill="#161616" textLength="225.00" lengthAdjust="spacingAndGlyphs">High - speed pulse output and</text>
<text x="534.30" y="497.40" font-size="15.00" fill="#161616" textLength="252.00" lengthAdjust="spacingAndGlyphs">open collector output are optional</text>
<text x="459.74" y="539.40" font-size="15.80" fill="#161616" stroke="#161616" stroke-width="0.25" textLength="37.58" lengthAdjust="spacingAndGlyphs">A O1</text>
<text x="458.74" y="568.50" font-size="15.80" fill="#161616" stroke="#161616" stroke-width="0.25" textLength="38.58" lengthAdjust="spacingAndGlyphs">GND</text>
<text x="465.74" y="621.40" font-size="15.80" fill="#161616" stroke="#161616" stroke-width="0.25" textLength="37.58" lengthAdjust="spacingAndGlyphs">A O2</text>
<text x="465.24" y="651.90" font-size="15.80" fill="#161616" stroke="#161616" stroke-width="0.25" textLength="38.08" lengthAdjust="spacingAndGlyphs">GND</text>
<text x="459.74" y="678.90" font-size="15.80" fill="#161616" stroke="#161616" stroke-width="0.25" textLength="41.08" lengthAdjust="spacingAndGlyphs">485+</text>
<text x="459.74" y="698.20" font-size="15.80" fill="#161616" stroke="#161616" stroke-width="0.25" textLength="36.58" lengthAdjust="spacingAndGlyphs">485-</text>
<text x="582.85" y="542.20" font-size="14.40" fill="#161616" textLength="103.94" lengthAdjust="spacingAndGlyphs">Analog output</text>
<text x="582.75" y="559.70" font-size="15.60" fill="#161616" textLength="108.56" lengthAdjust="spacingAndGlyphs">0-10V/0-20mA</text>
<text x="582.85" y="622.20" font-size="14.40" fill="#161616" textLength="103.94" lengthAdjust="spacingAndGlyphs">Analog output</text>
<text x="582.75" y="639.70" font-size="15.60" fill="#161616" textLength="108.56" lengthAdjust="spacingAndGlyphs">0-10V/0-20mA</text>
<text x="524.30" y="684.40" font-size="14.07" fill="#161616" textLength="238.99" lengthAdjust="spacingAndGlyphs">Rs485 Communication data interface</text>
<text x="369.15" y="592.70" font-size="10.60" fill="#161616" textLength="23.06" lengthAdjust="spacingAndGlyphs">Sw1</text>
<text x="370.15" y="604.90" font-size="10.60" fill="#161616" textLength="67.06" lengthAdjust="spacingAndGlyphs">485matched</text>
<text x="369.15" y="616.10" font-size="10.60" fill="#161616" textLength="57.06" lengthAdjust="spacingAndGlyphs">resistance</text>
<text x="321.12" y="704.30" font-size="11.00" fill="#161616" textLength="21.60" lengthAdjust="spacingAndGlyphs">A01</text>
<text x="352.12" y="704.30" font-size="11.00" fill="#161616" textLength="21.10" lengthAdjust="spacingAndGlyphs">A02</text>
<text x="384.12" y="704.30" font-size="11.00" fill="#161616" textLength="17.60" lengthAdjust="spacingAndGlyphs">Ai2</text>
<text x="368.06" y="745.00" font-size="11.80" fill="#161616" textLength="25.68" lengthAdjust="spacingAndGlyphs">CME</text>
<text x="405.56" y="745.00" font-size="11.80" fill="#161616" textLength="135.18" lengthAdjust="spacingAndGlyphs">COM Short circuit jumper</text>
<text x="371.07" y="758.30" font-size="11.59" fill="#161616" textLength="147.16" lengthAdjust="spacingAndGlyphs">Factory default short circuit</text>
<text x="277.24" y="805.80" font-size="15.84" fill="#161616" textLength="184.58" lengthAdjust="spacingAndGlyphs">Standard wiring diagram</text>
<path d="M413.1,636.6 V647.6 M411.0,637.1 H415.2 M411.0,647.2 H415.2" stroke="#161616" stroke-width="1.6" fill="none"/>
<path d="M397.1,736.2 V740.8 H403.7 V745.6 Q403.6,746.7 400.2,746.3 M397.1,737.9 H404.2 M394.6,742.6 H405" stroke="#161616" stroke-width="1.1" fill="none"/>
<path d="M245.9,660.3 V671.8 M243.8,660.9 H248.0 M243.8,671.1999999999999 H248.0" stroke="#161616" stroke-width="1.4" fill="none"/>
<path d="M245.9,679.1 V690.7 M243.8,679.7 H248.0 M243.8,690.1 H248.0" stroke="#161616" stroke-width="1.4" fill="none"/>
<text x="410.6" y="672.4" font-size="15" fill="#161616" stroke="#161616" stroke-width="0.25">v</text>
</svg></body></html>
